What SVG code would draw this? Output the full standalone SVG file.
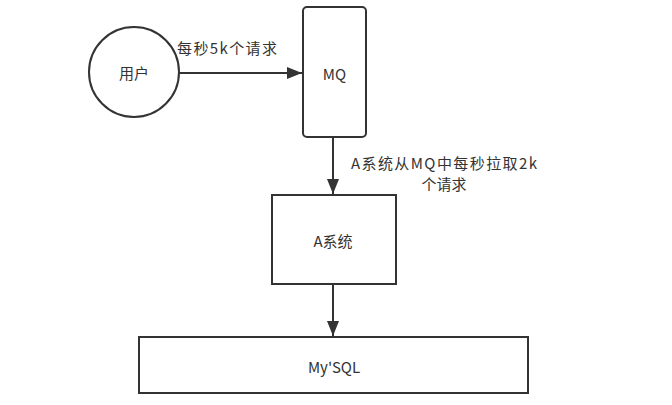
<svg xmlns="http://www.w3.org/2000/svg" width="672" height="405" viewBox="0 0 672 405">
<style>
.n{fill:#fff;stroke:#333;stroke-width:2}
.t{font-family:"Noto Sans CJK SC","Liberation Sans",sans-serif;font-size:15px;fill:#333;text-anchor:middle;dominant-baseline:central}
.c{stroke:#333;stroke-width:2;fill:none}
</style>
<defs>
<marker id="a" markerUnits="userSpaceOnUse" markerWidth="16" markerHeight="12" refX="15" refY="6" orient="auto">
<path d="M0,0 L15,6 L0,12 Z" fill="#333"/>
</marker>
</defs>
<rect width="672" height="405" fill="#fff"/>
<g id="connectors">
<line class="c" x1="179" y1="73" x2="302" y2="73" marker-end="url(#a)"/>
<line class="c" x1="333" y1="137" x2="333" y2="194" marker-end="url(#a)"/>
<line class="c" x1="333" y1="284" x2="333" y2="336" marker-end="url(#a)"/>
<text class="t" x="227" y="47" textLength="100" lengthAdjust="spacing">每秒5k个请求</text>
<text class="t" x="444" y="162" textLength="186" lengthAdjust="spacing">A系统从MQ中每秒拉取2k</text>
<text class="t" x="444" y="183">个请求</text>
</g>
<g id="user">
<circle class="n" cx="134" cy="72" r="45"/>
<text class="t" x="134" y="72">用户</text>
</g>
<g id="mq">
<rect class="n" x="303" y="7" width="63" height="130" rx="4"/>
<text class="t" x="334.5" y="73">MQ</text>
</g>
<g id="asys">
<rect class="n" x="272" y="195" width="124" height="89"/>
<text class="t" x="333" y="240">A系统</text>
</g>
<g id="mysql">
<rect class="n" x="139" y="337" width="389" height="56"/>
<text class="t" x="334" y="366">My'SQL</text>
</g>
</svg>
